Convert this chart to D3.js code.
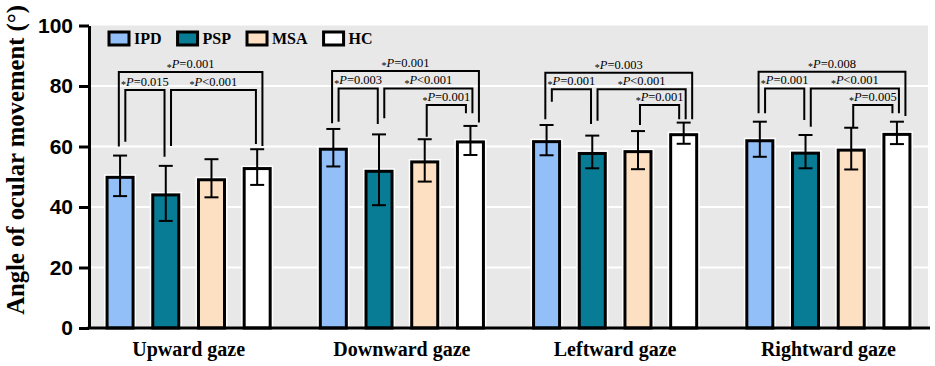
<!DOCTYPE html>
<html>
<head>
<meta charset="utf-8">
<script src="https://cdn.jsdelivr.net/npm/d3@7"></script>
<style>
  body { margin: 0; background: #fff; }
  svg { display: block; }
</style>
</head>
<body>
<svg id="chart" width="935" height="366"></svg>
<script>
const gazes = ['Upward gaze', 'Downward gaze', 'Leftward gaze', 'Rightward gaze'];
const groups = ['IPD', 'PSP', 'MSA', 'HC'];
const colors = ['#92bff7', '#077c94', '#fde0c1', '#ffffff'];

// mean and SD per gaze direction
const ipdMean = [50.3, 59.6, 62.1, 62.4];
const pspMean = [44.5, 52.3, 58.2, 58.3];
const msaMean = [49.5, 55.4, 58.8, 59.3];
const hcMean = [53.2, 62.0, 64.4, 64.5];
const ipdSD = [6.7, 6.2, 5.0, 5.8];
const pspSD = [9.1, 11.7, 5.4, 5.5];
const msaSD = [6.3, 7.0, 6.3, 6.9];
const hcSD = [5.9, 4.8, 3.5, 3.7];

const yTicks = [0, 20, 40, 60, 80, 100];

// [gaze index, from, to, bracket level, left leg end, right leg end, label]
const brackets = [
  [0, 'IPD', 'HC', 84.6, 60.0, 60.2, 'P=0.001'],
  [0, 'IPD', 'PSP', 78.7, 61.6, 56.6, 'P=0.015'],
  [0, 'PSP', 'HC', 78.7, 60.2, 60.8, 'P<0.001'],
  [1, 'IPD', 'HC', 85.0, 67.7, 67.9, 'P=0.001'],
  [1, 'IPD', 'PSP', 79.2, 68.2, 67.4, 'P=0.003'],
  [1, 'PSP', 'HC', 79.2, 69.3, 71.0, 'P<0.001'],
  [1, 'MSA', 'HC', 73.7, 63.2, 71.0, 'P=0.001'],
  [2, 'IPD', 'HC', 84.4, 69.0, 69.0, 'P=0.003'],
  [2, 'IPD', 'PSP', 78.9, 74.8, 67.4, 'P=0.001'],
  [2, 'PSP', 'HC', 78.9, 68.5, 69.0, 'P<0.001'],
  [2, 'MSA', 'HC', 73.7, 67.1, 69.0, 'P=0.001'],
  [3, 'IPD', 'HC', 84.7, 71.0, 70.1, 'P=0.008'],
  [3, 'IPD', 'PSP', 79.2, 71.0, 68.8, 'P=0.001'],
  [3, 'PSP', 'HC', 79.2, 66.5, 71.0, 'P<0.001'],
  [3, 'MSA', 'HC', 73.7, 66.3, 71.0, 'P=0.005']
];

const means = [ipdMean, pspMean, msaMean, hcMean];
const sds = [ipdSD, pspSD, msaSD, hcSD];

const serif = '"Liberation Serif", "Times New Roman", serif';
const sans = '"Liberation Sans", Arial, sans-serif';

const svg = d3.select('#chart');
const axisX = 89, panelLeft = 91, panelRight = 928;

const y = d3.scaleLinear().domain([0, 100]).range([328, 25.5]);
const x = d3.scaleBand().domain(gazes).range([82, 935]).padding(0);
const xInner = d3.scaleBand().domain(groups).range([-91.4, 91.4])
  .paddingInner(0.365).paddingOuter(0.1825);
const barCenter = (gi, g) => x(gazes[gi]) + x.bandwidth() / 2 + xInner(g) + xInner.bandwidth() / 2;

// grey panel + white grid
svg.append('rect')
  .attr('x', panelLeft).attr('y', y(100))
  .attr('width', panelRight - panelLeft).attr('height', y(0) - y(100))
  .attr('fill', '#e8e8e8');
svg.append('g').selectAll('line')
  .data(yTicks.filter(d => d > 0 && d < 100))
  .enter().append('line')
  .attr('x1', panelLeft).attr('x2', panelRight)
  .attr('y1', d => y(d)).attr('y2', d => y(d))
  .attr('stroke', '#fff').attr('stroke-width', 2);

// bars
const barData = [];
gazes.forEach((gz, gi) => groups.forEach((g, k) => {
  barData.push({ gi, g, k, mean: means[k][gi], sd: sds[k][gi] });
}));

const bw = xInner.bandwidth();
const bars = svg.append('g');
// white halo then black outline
[['#fff', 6], ['#000', 3]].forEach(([stroke, sw], pass) => {
  bars.selectAll('rect.p' + pass)
    .data(barData)
    .enter().append('rect')
    .attr('class', 'p' + pass)
    .attr('x', d => barCenter(d.gi, d.g) - bw / 2 + 1.5)
    .attr('y', d => y(d.mean) + 1.5)
    .attr('width', bw - 3)
    .attr('height', d => y(0) - y(d.mean) - 1.5)
    .attr('fill', d => colors[d.k])
    .attr('stroke', stroke)
    .attr('stroke-width', sw);
});

// error bars
const err = svg.append('g').attr('stroke', '#000').attr('stroke-width', 2);
barData.forEach(d => {
  const cx = barCenter(d.gi, d.g);
  err.append('line').attr('x1', cx).attr('x2', cx)
    .attr('y1', y(d.mean + d.sd)).attr('y2', y(d.mean - d.sd));
  [d.mean + d.sd, d.mean - d.sd].forEach(v => {
    err.append('line').attr('x1', cx - 7).attr('x2', cx + 7)
      .attr('y1', y(v)).attr('y2', y(v));
  });
});

// significance brackets: spread the legs that share a bar
const legs = [];
brackets.forEach((b, bi) => {
  const span = groups.indexOf(b[2]) - groups.indexOf(b[1]);
  legs.push({ bi, gi: b[0], g: b[1], dir: 1, span, end: b[4] });
  legs.push({ bi, gi: b[0], g: b[2], dir: -1, span, end: b[5] });
});
d3.groups(legs, d => d.gi + d.g).forEach(([key, arr]) => {
  arr.sort((a, b) => a.dir !== b.dir ? a.dir - b.dir : (a.dir < 0 ? a.span - b.span : b.span - a.span));
  const n = arr.length;
  arr.forEach((l, i) => { l.x = barCenter(l.gi, l.g) + (i - (n - 1) / 2) * 6.5 + 2; });
});

const br = svg.append('g');
brackets.forEach((b, bi) => {
  const [l, r] = legs.filter(d => d.bi === bi);
  const yl = y(b[3]);
  br.append('path')
    .attr('d', `M${l.x},${y(l.end)}V${yl}H${r.x}V${y(r.end)}`)
    .attr('fill', 'none').attr('stroke', '#000').attr('stroke-width', 2);
  const t = br.append('text')
    .attr('x', (l.x + r.x) / 2).attr('y', yl - 4)
    .attr('text-anchor', 'middle')
    .attr('font-family', serif).attr('font-size', 12.5);
  t.append('tspan').attr('dy', 2.5).attr('font-size', 10).text('*');
  t.append('tspan').attr('dy', -2.5).attr('font-style', 'italic').text(b[6][0]);
  t.append('tspan').text(b[6].slice(1));
});

// y axis
const yAxis = svg.append('g')
  .attr('transform', `translate(${axisX},0)`)
  .call(d3.axisLeft(y).tickValues(yTicks).tickSize(10).tickSizeOuter(0).tickPadding(6));
yAxis.select('.domain').attr('stroke-width', 3);
yAxis.selectAll('.tick line').attr('stroke-width', 3);
yAxis.selectAll('.tick text')
  .attr('font-family', sans).attr('font-weight', 'bold').attr('font-size', 21).attr('fill', '#000');

// x axis
const xAxis = svg.append('g')
  .attr('transform', `translate(0,${y(0)})`)
  .call(d3.axisBottom(x).tickSize(0).tickPadding(14));
xAxis.select('.domain').remove();
xAxis.selectAll('.tick text')
  .attr('font-family', serif).attr('font-weight', 'bold').attr('font-size', 20).attr('fill', '#000');
svg.append('line')
  .attr('x1', axisX - 1.5).attr('x2', 930)
  .attr('y1', y(0)).attr('y2', y(0))
  .attr('stroke', '#000').attr('stroke-width', 3);

// y title, sized to fit the plot height
const title = svg.append('text')
  .attr('transform', `translate(24,160) rotate(-90)`)
  .attr('text-anchor', 'middle')
  .attr('font-family', serif).attr('font-weight', 'bold').attr('font-size', 26)
  .text('Angle of ocular movement (°)');
const tl = title.node().getComputedTextLength();
if (tl > 310) title.attr('font-size', 26 * 310 / tl);

// legend
let lx = 109;
const legend = svg.append('g');
groups.forEach((g, k) => {
  legend.append('rect')
    .attr('x', lx).attr('y', 32)
    .attr('width', 20).attr('height', 13)
    .attr('fill', colors[k]).attr('stroke', '#000').attr('stroke-width', 3);
  const t = legend.append('text')
    .attr('x', lx + 25).attr('y', 44)
    .attr('font-family', serif).attr('font-weight', 'bold').attr('font-size', 16)
    .text(g);
  lx += 25 + t.node().getComputedTextLength() + 16;
});
</script>
</body>
</html>
